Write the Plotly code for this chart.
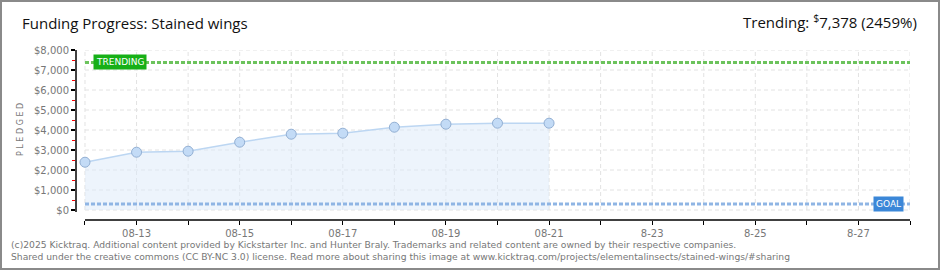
import plotly.graph_objects as go

# ---- data ----
dates = ["2025-08-12", "2025-08-13", "2025-08-14", "2025-08-15", "2025-08-16",
         "2025-08-17", "2025-08-18", "2025-08-19", "2025-08-20", "2025-08-21"]
pledged = [2390, 2890, 2940, 3390, 3790, 3840, 4140, 4290, 4340, 4340]
goal = 300
trending = 7378
trend_pct = 2459

all_days = ["2025-08-%02d" % d for d in range(12, 29)]
x_label_days = ["2025-08-13", "2025-08-15", "2025-08-17", "2025-08-19", "2025-08-21",
                "2025-08-23", "2025-08-25", "2025-08-27"]
x_tick_labels = ["08-13", "08-15", "08-17", "08-19", "08-21", "8-23", "8-25", "8-27"]
y_tick_vals = [0, 1000, 2000, 3000, 4000, 5000, 6000, 7000, 8000]
y_tick_text = ["$0", "$1,000", "$2,000", "$3,000", "$4,000", "$5,000", "$6,000", "$7,000", "$8,000"]
y_minor_vals = [500, 1500, 2500, 3500, 4500, 5500, 6500, 7500]

x_start = "2025-08-11 19:49"
x_end = "2025-08-28"

fig = go.Figure()

# grid shapes
shapes = []
for v in y_tick_vals:
    shapes.append(dict(type="line", xref="x", yref="y", x0=all_days[0], x1=all_days[-1], y0=v, y1=v,
                       line=dict(color="#e2e2e2", width=1, dash="4px,3px"), layer="below"))
for d in all_days:
    shapes.append(dict(type="line", xref="x", yref="y", x0=d, x1=d, y0=0, y1=8000,
                       line=dict(color="#e2e2e2", width=1, dash="4px,3px"), layer="below"))
# axis lines
shapes.append(dict(type="line", xref="paper", yref="y", x0=0, x1=0, y0=-100, y1=8000,
                   line=dict(color="#000", width=1.5)))
shapes.append(dict(type="line", xref="x", yref="paper", x0=all_days[0], x1=all_days[-1], y0=0, y1=0,
                   line=dict(color="#000", width=1.5)))
# outer border
shapes.append(dict(type="rect", xref="paper", yref="paper",
                   x0=(1 - 76) / 834, x1=(939 - 76) / 834, y0=(220 - 269) / 170, y1=(220 - 1) / 170,
                   line=dict(color="#8a8a8a", width=2), fillcolor="rgba(0,0,0,0)"))

# area + points
fig.add_trace(go.Scatter(x=dates, y=pledged, mode="lines+markers", fill="tozeroy",
                         fillcolor="rgba(220,234,250,0.5)",
                         line=dict(color="#bcd6f2", width=1.5),
                         marker=dict(size=10, color="#c3dbf6", line=dict(color="#92afd3", width=1)),
                         hoverinfo="skip"))
# goal line
fig.add_trace(go.Scatter(x=[all_days[0], all_days[-1]], y=[goal, goal], mode="lines",
                         line=dict(color="#8fb5e4", width=3, dash="4px,2px"), hoverinfo="skip"))
# trending line
fig.add_trace(go.Scatter(x=[all_days[0], all_days[-1]], y=[trending, trending], mode="lines",
                         line=dict(color="#6cc35c", width=3, dash="4px,2px"), hoverinfo="skip"))

annotations = [
    dict(text="TRENDING", xref="x", yref="y", x="2025-08-12 03:30", y=trending, xanchor="left",
         yanchor="middle", showarrow=False, bgcolor="#17b017", borderpad=2,
         font=dict(family="DejaVu Sans", size=9, color="white")),
    dict(text="GOAL", xref="x", yref="y", x="2025-08-27 21:00", y=goal, xanchor="right",
         yanchor="middle", showarrow=False, bgcolor="#3b87d8", borderpad=2,
         font=dict(family="DejaVu Sans", size=9, color="white")),
    dict(text="Funding Progress: Stained wings", xref="paper", yref="paper",
         x=(20 - 76) / 834, y=(220 - 23) / 170, xanchor="left", yanchor="middle", showarrow=False,
         font=dict(family="Open Sans", size=15, color="#111")),
    dict(text="Trending: <sup>$</sup>%s (%d%%)" % (f"{trending:,}", trend_pct), xref="paper", yref="paper",
         x=(919 - 76) / 834, y=(220 - 22) / 170, xanchor="right", yanchor="middle", showarrow=False,
         font=dict(family="Open Sans", size=15, color="#111")),
    dict(text="P L E D G E D", xref="paper", yref="paper", x=(20 - 76) / 834, y=(220 - 130) / 170,
         textangle=-90, xanchor="center", yanchor="middle", showarrow=False,
         font=dict(family="DejaVu Sans", size=8, color="#777")),
    dict(text="(c)2025 Kicktraq. Additional content provided by Kickstarter Inc. and Hunter Braly. "
              "Trademarks and related content are owned by their respective companies.<br>"
              "Shared under the creative commons (CC BY-NC 3.0) license. Read more about sharing this image at "
              "www.kicktraq.com/projects/elementalinsects/stained-wings/#sharing",
         xref="paper", yref="paper", x=(9 - 76) / 834, y=(220 - 250) / 170, xanchor="left",
         yanchor="middle", align="left", showarrow=False,
         font=dict(family="DejaVu Sans", size=9.2, color="#777")),
]

fig.update_layout(
    width=940, height=270,
    margin=dict(l=76, r=30, t=50, b=50),
    paper_bgcolor="white", plot_bgcolor="white",
    showlegend=False,
    shapes=shapes,
    annotations=annotations,
    xaxis=dict(type="date", range=[x_start, x_end], showgrid=False, zeroline=False, showline=False,
               tickmode="array", tickvals=x_label_days, ticktext=x_tick_labels,
               ticks="outside", ticklen=4, tickcolor="#000", tickwidth=1,
               minor=dict(tickmode="array", tickvals=all_days, ticks="outside", ticklen=4,
                          tickcolor="#000", tickwidth=1),
               tickfont=dict(family="DejaVu Sans", size=10, color="#777")),
    yaxis=dict(range=[-500, 8000], showgrid=False, zeroline=False, showline=False,
               tickmode="array", tickvals=y_tick_vals, ticktext=y_tick_text,
               ticks="outside", ticklen=4, tickcolor="#000", tickwidth=1.5,
               minor=dict(tickmode="array", tickvals=y_minor_vals, ticks="outside", ticklen=3,
                          tickcolor="red", tickwidth=1),
               tickfont=dict(family="DejaVu Sans", size=10, color="#777")),
)

fig.write_html("out.html")
